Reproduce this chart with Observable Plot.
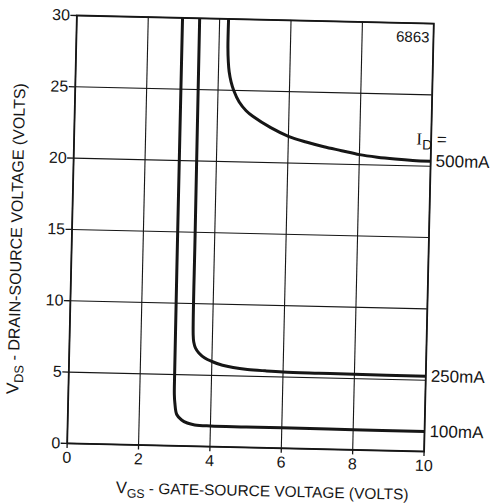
<!DOCTYPE html>
<html>
<head>
<meta charset="utf-8">
<script src="https://cdn.jsdelivr.net/npm/d3@7"></script>
<script src="https://cdn.jsdelivr.net/npm/@observablehq/plot@0.6"></script>
<style>
  html, body { margin: 0; padding: 0; background: #fff; }
  #chart { width: 494px; height: 503px; overflow: hidden; }
  #chart svg { display: block; transform: rotate(1.3deg); transform-origin: 250px 233px; }
</style>
</head>
<body>
<div id="chart"></div>
<script>
// Axis ticks
const xTicks = [0, 2, 4, 6, 8, 10];
const yTicks = [0, 5, 10, 15, 20, 25, 30];

// Drain current curves: VGS (volts) vs VDS (volts)
const id100Vgs = [2.96, 2.96, 2.965, 2.97, 2.99, 3.05, 3.19, 3.35, 3.56, 4.0, 5.0, 6.0, 8.0, 10.0];
const id100Vds = [30, 15, 5, 3.6, 3.0, 2.2, 1.82, 1.62, 1.5, 1.45, 1.44, 1.43, 1.42, 1.4];

const id250Vgs = [3.44, 3.45, 3.46, 3.48, 3.53, 3.63, 3.8, 4.0, 4.3, 4.6, 5.0, 5.5, 6.0, 7.0, 8.0, 10.0];
const id250Vds = [30, 15, 7.8, 7.3, 6.9, 6.55, 6.2, 5.97, 5.72, 5.58, 5.47, 5.4, 5.35, 5.32, 5.3, 5.28];

const id500Vgs = [4.25, 4.25, 4.27, 4.3, 4.36, 4.44, 4.6, 4.8, 5.0, 5.5, 6.0, 6.5, 7.0, 7.5, 8.0, 8.5, 9.0, 9.5, 10.0];
const id500Vds = [30, 28, 27, 26.3, 25.6, 25, 24.2, 23.6, 23.2, 22.45, 21.87, 21.5, 21.2, 20.95, 20.7, 20.55, 20.45, 20.38, 20.35];

const seriesNames = ["100mA", "250mA", "500mA"];
const seriesVgs = [id100Vgs, id250Vgs, id500Vgs];
const seriesVds = [id100Vds, id250Vds, id500Vds];

const rows = [];
seriesNames.forEach((name, i) => {
  seriesVgs[i].forEach((v, j) => rows.push({id: name, vgs: v, vds: seriesVds[i][j]}));
});
const endLabels = seriesNames.map((name, i) => ({
  id: name,
  vgs: seriesVgs[i][seriesVgs[i].length - 1],
  vds: seriesVds[i][seriesVds[i].length - 1]
}));

const ink = "#161616";
const sans = "'Liberation Sans', Arial, Helvetica, sans-serif";

const chart = Plot.plot({
  width: 494,
  height: 503,
  marginLeft: 71.5,
  marginRight: 65.5,
  marginTop: 19,
  marginBottom: 56,
  style: {fontFamily: sans, fontSize: "16px", color: ink, background: "transparent"},
  x: {domain: [0, 10]},
  y: {domain: [0, 30]},
  marks: [
    Plot.gridX(xTicks, {stroke: ink, strokeOpacity: 1, strokeWidth: 1.1}),
    Plot.gridY(yTicks, {stroke: ink, strokeOpacity: 1, strokeWidth: 1.1}),
    Plot.frame({stroke: ink, strokeWidth: 1.8}),
    Plot.axisX(xTicks, {tickSize: 5, tickPadding: 3, label: null, stroke: ink, strokeWidth: 1.3, fontSize: 16}),
    Plot.axisY(yTicks, {tickSize: 6, tickPadding: 1, label: null, stroke: ink, strokeWidth: 1.3, fontSize: 16}),
    Plot.line(rows, {x: "vgs", y: "vds", z: "id", curve: "catmull-rom", stroke: ink, strokeWidth: 3, strokeLinecap: "butt"}),
    Plot.text(endLabels, {x: "vgs", y: "vds", text: "id", textAnchor: "start", dx: 5, fontSize: 17, fill: ink}),
    Plot.text(["6863"], {x: 10, y: 30, text: d => d, dx: -4, dy: 14, textAnchor: "end", fontSize: 15, fill: ink})
  ]
});

document.getElementById("chart").appendChild(chart);

// Labels with subscripts
const svg = d3.select(chart);
const sx = chart.scale("x"), sy = chart.scale("y");

function subscriptText(g, main, sub, rest, size) {
  const t = g.append("text")
    .attr("fill", ink)
    .attr("font-family", sans)
    .attr("font-size", size);
  t.append("tspan").attr("font-size", size * 1.08).text(main);
  t.append("tspan").attr("font-size", size * 0.8).attr("dy", size * 0.28).text(sub);
  t.append("tspan").attr("dy", -size * 0.28).text(rest);
  return t;
}

// Current legend heading above the 500mA label
const top500 = endLabels[2];
const idHead = svg.append("text")
  .attr("x", sx.apply(10) + 1)
  .attr("y", sy.apply(top500.vds) - 16)
  .attr("fill", ink)
  .attr("font-size", 17);
idHead.append("tspan").attr("font-family", "'Liberation Serif', 'DejaVu Serif', serif").text("I");
idHead.append("tspan").attr("font-family", sans).attr("font-size", 14).attr("dy", 5).text("D");
idHead.append("tspan").attr("font-family", sans).attr("dy", -5).text(" =");

// Axis titles
const xt = subscriptText(svg.append("g"), "V", "GS", " - GATE-SOURCE VOLTAGE (VOLTS)", 15.4);
xt.attr("x", 268).attr("y", 496).attr("text-anchor", "middle");

const yg = svg.append("g").attr("transform", "translate(22,244) rotate(-90)");
const yt = subscriptText(yg, "V", "DS", " - DRAIN-SOURCE VOLTAGE (VOLTS)", 16);
yt.attr("x", 0).attr("y", 0).attr("text-anchor", "middle");
</script>
</body>
</html>
